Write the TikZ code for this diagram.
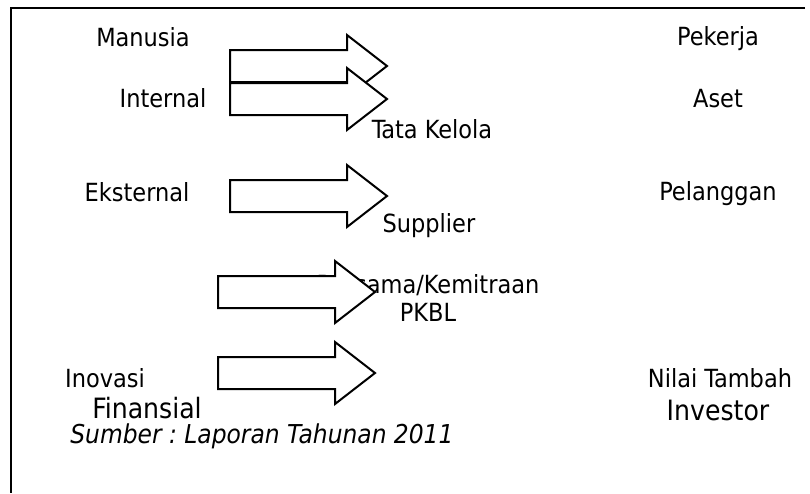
\documentclass[tikz,border=0pt]{standalone}
\usepackage{fontspec}
\setmainfont{DejaVu Sans Condensed}
\frenchspacing
\tikzset{
  lbl/.style={anchor=base,inner sep=0pt,font=\fontsize{25}{28}\selectfont},
  biglbl/.style={anchor=base,inner sep=0pt,font=\fontsize{28}{30}\selectfont},
  fatarrow/.style={draw=black,fill=white,line width=2pt,line join=miter}
}
\begin{document}
\begin{tikzpicture}[x=1pt,y=-1pt]
\useasboundingbox (0,0) rectangle (810,493);
% frame
\draw[line width=2pt] (805,8) -- (11,8) -- (11,493);
% left column
\node[lbl] (manusia) at (143,46) {Manusia};
\node[lbl] (internal) at (163,107) {Internal};
\node[lbl] (eksternal) at (137,201) {Eksternal};
\node[lbl] (inovasi) at (105,387) {Inovasi};
\node[biglbl] (finansial) at (147,418) {Finansial};
% middle column
\node[lbl] (tatakelola) at (432,138) {Tata Kelola};
\node[lbl] (supplier) at (429,232) {Supplier};
\node[lbl,align=center] (kemitraan) at (428,321) {Bersama/Kemitraan\\PKBL};
% right column
\node[lbl] (pekerja) at (718,45) {Pekerja};
\node[lbl] (aset) at (718,107) {Aset};
\node[lbl] (pelanggan) at (718,200) {Pelanggan};
\node[lbl] (nilaitambah) at (720,387) {Nilai Tambah};
\node[biglbl] (investor) at (718,420) {Investor};
% source
\node[lbl,font=\fontsize{26}{28}\selectfont\itshape] (sumber) at (262,443) {Sumber : Laporan Tahunan 2011};
% block arrows
\foreach \l/\m in {230/66,230/99,230/196,218/292,218/373}
  \draw[fatarrow] (\l,\m-16) -- (\l+117,\m-16) -- (\l+117,\m-31)
    -- (\l+157,\m) -- (\l+117,\m+31) -- (\l+117,\m+16) -- (\l,\m+16) -- cycle;
\end{tikzpicture}
\end{document}
